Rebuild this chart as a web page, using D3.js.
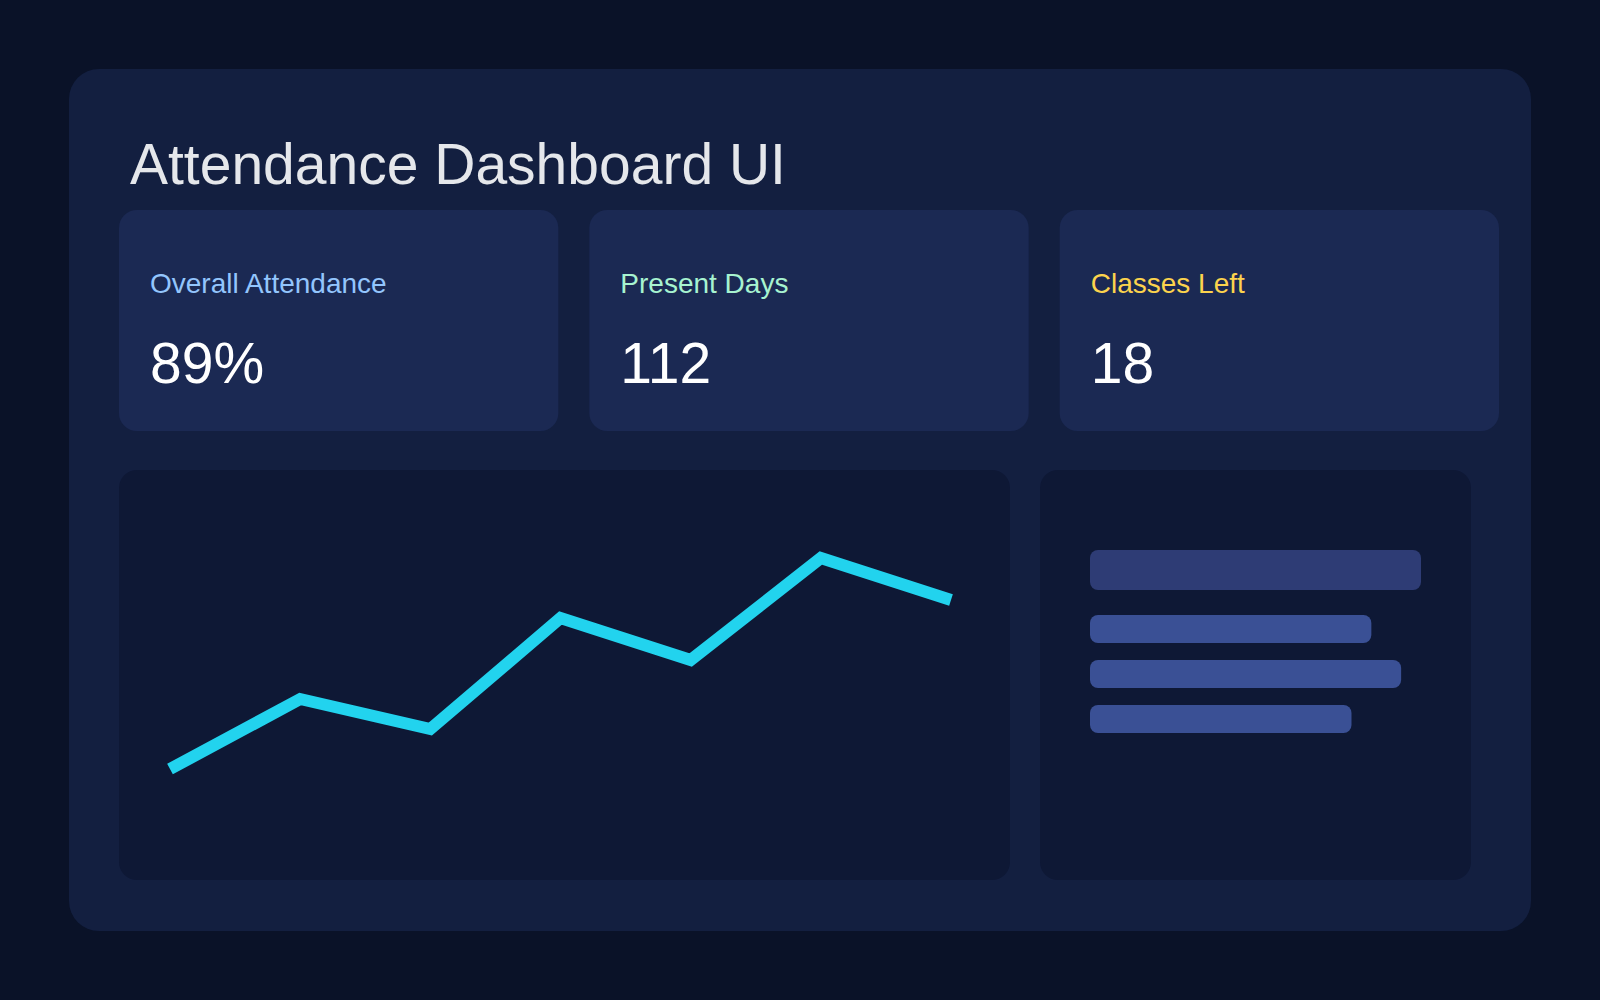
<!DOCTYPE html>
<html>
<head>
<meta charset="utf-8">
<script src="https://cdn.jsdelivr.net/npm/d3@7"></script>
<style>
  body { margin: 0; background: #0a1228; }
  svg { display: block; font-family: "Liberation Sans", Arial, sans-serif; }
</style>
</head>
<body>
<svg id="chart" width="1600" height="1000"></svg>
<script>
// kpi cards
const kpiLabels = ['Overall Attendance', 'Present Days', 'Classes Left'];
const kpiValues = ['89%', '112', '18'];
const kpiColors = ['#93c5fd', '#a7f3d0', '#fcd34d'];

// attendance trend (percent)
const trendValues = [73.1, 80.1, 77.1, 88.2, 84.0, 94.2, 90.0];

// summary bars (relative lengths)
const barValues = [100, 85, 94, 79];

const svg = d3.select('#chart');

svg.append('rect').attr('width', 1600).attr('height', 1000).attr('fill', '#0a1228');
svg.append('rect')
	.attr('x', 69).attr('y', 69).attr('width', 1462).attr('height', 862)
	.attr('rx', 30).attr('fill', '#131f40');

svg.append('text')
	.attr('x', 130).attr('y', 184)
	.attr('font-size', 57).attr('fill', '#e5e7eb')
	.text('Attendance Dashboard UI');

// kpi cards
const cardX = d3.scaleBand().domain(d3.range(kpiLabels.length)).range([119, 1499]).paddingInner(0.066);
const cards = svg.selectAll('.card')
	.data(kpiLabels)
	.enter()
	.append('g')
	.attr('class', 'card')
	.attr('transform', (d, i) => `translate(${cardX(i)},210)`);
cards.append('rect')
	.attr('width', cardX.bandwidth()).attr('height', 221)
	.attr('rx', 18).attr('fill', '#1b2953');
cards.append('text')
	.attr('x', 31).attr('y', 83)
	.attr('font-size', 28)
	.attr('fill', (d, i) => kpiColors[i])
	.text(d => d);
cards.append('text')
	.attr('x', 31).attr('y', 173)
	.attr('font-size', 57).attr('fill', '#ffffff')
	.text((d, i) => kpiValues[i]);

// line chart panel
svg.append('rect')
	.attr('x', 119).attr('y', 470).attr('width', 891).attr('height', 410)
	.attr('rx', 18).attr('fill', '#0e1835');

const x = d3.scaleLinear().domain([0, trendValues.length - 1]).range([170, 951]);
const y = d3.scaleLinear().domain([70, 100]).range([800, 500]);
svg.append('path')
	.datum(trendValues)
	.attr('fill', 'none')
	.attr('stroke', '#22d3ee')
	.attr('stroke-width', 12)
	.attr('d', d3.line().x((d, i) => x(i)).y(d => y(d)));

// bars panel
svg.append('rect')
	.attr('x', 1040).attr('y', 470).attr('width', 431).attr('height', 410)
	.attr('rx', 18).attr('fill', '#0e1835');

const bx = d3.scaleLinear().domain([0, 100]).range([0, 331]);
const barY = [550, 615, 660, 705];
const barH = [40, 28, 28, 28];
svg.selectAll('.bar')
	.data(barValues)
	.enter()
	.append('rect')
	.attr('class', 'bar')
	.attr('x', 1090)
	.attr('y', (d, i) => barY[i])
	.attr('width', d => bx(d))
	.attr('height', (d, i) => barH[i])
	.attr('rx', 8)
	.attr('fill', (d, i) => (i === 0 ? '#2e3c75' : '#3a5095'));
</script>
</body>
</html>
